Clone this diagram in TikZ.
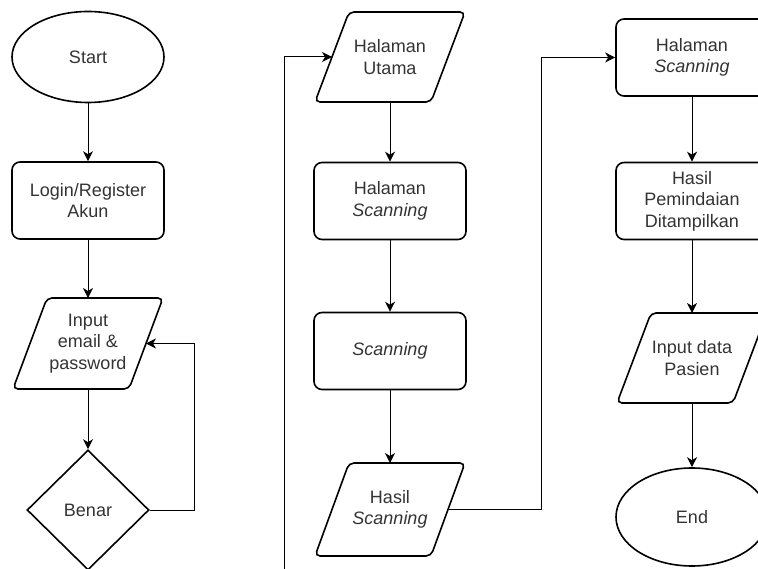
\documentclass[tikz,border=0pt]{standalone}
\usepackage{fontspec}
\setmainfont{Liberation Sans}
\usetikzlibrary{shapes.geometric,arrows.meta}
\definecolor{txtgray}{HTML}{333333}

% parallelogram (input/output) box: name, cx, cy, height, text
\newcommand\iobox[5]{%
  \node[txt] (#1) at (#2,#3) {#5};
  \draw[outline, rounded corners=5pt]
    (#2-41,#3-#4/2) -- (#2+75,#3-#4/2) -- (#2+41,#3+#4/2) -- (#2-75,#3+#4/2) -- cycle;
  \coordinate (#1-n) at (#2,#3-#4/2);
  \coordinate (#1-s) at (#2,#3+#4/2);
  \coordinate (#1-e) at (#2+58,#3);
  \coordinate (#1-w) at (#2-58,#3);
}

\begin{document}
\begin{tikzpicture}[x=1pt,y=-1pt,
  txt/.style={align=center, text=txtgray, font=\fontsize{18}{21.6}\selectfont, inner sep=0pt},
  outline/.style={draw=black, line width=1.6pt},
  terminal/.style={txt, outline, ellipse, minimum width=152pt, minimum height=91pt},
  process/.style={txt, outline, rectangle, rounded corners=8pt, minimum width=152pt, minimum height=77pt},
  decision/.style={txt, outline, diamond, minimum width=122pt, minimum height=120pt},
  conn/.style={draw=black, line width=1pt, -{Stealth[length=10pt,width=10pt,inset=3pt]}},
  link/.style={draw=black, line width=1pt}
]
\useasboundingbox (0,0) rectangle (758,569);
\clip (0,0) rectangle (758,569);

% left column: login
\node[terminal] (start) at (88,57) {Start};
\node[process] (login) at (88,200.5) {Login/Register\\Akun};
\iobox{input}{88}{343.5}{91}{Input\\email \&\\password}
\node[decision] (benar) at (88,510) {Benar};

\draw[conn] (start.south) -- (login.north);
\draw[conn] (login.south) -- (input-n);
\draw[conn] (input-s) -- (benar.north);
\draw[conn] (benar.east) -- (194,510) |- (input-e);

% middle column: scanning
\iobox{utama}{390}{57}{90}{Halaman\\Utama}
\node[process] (hscan) at (390,201) {Halaman\\\textit{Scanning}};
\node[process] (scan) at (390,351) {\textit{Scanning}};
\iobox{hasil}{390}{509.5}{93}{Hasil\\\textit{Scanning}}

\coordinate (ya) at (284,600);
\draw[conn] (ya) |- (utama-w);
\draw[conn] (utama-s) -- (hscan.north);
\draw[conn] (hscan.south) -- (scan.north);
\draw[conn] (scan.south) -- (hasil-n);

% right column: results
\node[process] (hscan2) at (692,57.5) {Halaman\\\textit{Scanning}};
\node[process] (tampil) at (692,201) {Hasil\\Pemindaian\\Ditampilkan};
\iobox{pasien}{692}{358}{90}{Input data\\Pasien}
\node[terminal, minimum height=98pt] (end) at (692,517) {End};

\draw[conn] (hasil-e) -- (541,509.5) |- (hscan2.west);
\draw[conn] (hscan2.south) -- (tampil.north);
\draw[conn] (tampil.south) -- (pasien-n);
\draw[conn] (pasien-s) -- (end.north);
\end{tikzpicture}
\end{document}
